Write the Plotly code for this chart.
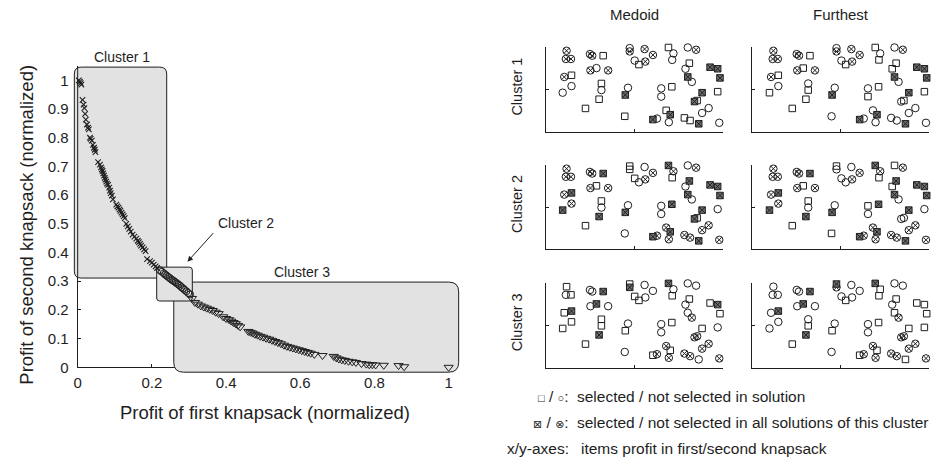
import plotly.graph_objects as go

W, H = 939, 468
FONT = "Liberation Sans, Arial, Helvetica, DejaVu Sans, sans-serif"
INK = "#1e1e1e"
BOX_FILL = "#e2e2e2"
XFILL = "#707070"

# ---------------- left chart data ----------------
c1_x = [0.003, 0.006, 0.008, 0.010, 0.013, 0.016, 0.018, 0.020, 0.022, 0.025,
        0.028, 0.030, 0.033, 0.035, 0.038, 0.041, 0.044, 0.046, 0.048, 0.055,
        0.060, 0.063, 0.065, 0.067, 0.069, 0.071, 0.073, 0.075, 0.077, 0.079,
        0.082, 0.085, 0.087, 0.089, 0.092, 0.095, 0.104, 0.107, 0.110, 0.113,
        0.115, 0.118, 0.121, 0.124, 0.127, 0.131, 0.135, 0.139, 0.143, 0.148,
        0.153, 0.158, 0.162, 0.165, 0.168, 0.171, 0.175, 0.179, 0.183, 0.187,
        0.195, 0.200, 0.205, 0.210, 0.214]
c1_y = [1.000, 0.995, 0.990, 0.985, 0.932, 0.915, 0.903, 0.883, 0.863, 0.846,
        0.835, 0.829, 0.800, 0.796, 0.790, 0.775, 0.765, 0.758, 0.750, 0.715,
        0.706, 0.697, 0.690, 0.684, 0.676, 0.668, 0.660, 0.654, 0.647, 0.640,
        0.636, 0.626, 0.616, 0.607, 0.598, 0.585, 0.567, 0.561, 0.556, 0.550,
        0.545, 0.539, 0.533, 0.527, 0.520, 0.500, 0.491, 0.482, 0.473, 0.462,
        0.455, 0.448, 0.441, 0.436, 0.430, 0.424, 0.418, 0.411, 0.405, 0.377,
        0.370, 0.365, 0.358, 0.352, 0.346]

c2_x = [0.222, 0.227, 0.232, 0.236, 0.240, 0.244, 0.248, 0.252, 0.256, 0.260,
        0.264, 0.268, 0.272, 0.276, 0.280, 0.284, 0.288, 0.293, 0.298, 0.303]
c2_y = [0.338, 0.333, 0.328, 0.323, 0.319, 0.315, 0.311, 0.307, 0.303, 0.300,
        0.296, 0.292, 0.288, 0.284, 0.279, 0.275, 0.270, 0.265, 0.259, 0.254]

c3_x = [0.308, 0.316, 0.324, 0.332, 0.340, 0.348, 0.356, 0.364, 0.372, 0.380,
        0.392, 0.400, 0.408, 0.414, 0.420, 0.426, 0.432, 0.438, 0.460, 0.466,
        0.472, 0.478, 0.485, 0.492, 0.500, 0.508, 0.516, 0.524, 0.532, 0.540,
        0.548, 0.556, 0.564, 0.572, 0.580, 0.588, 0.596, 0.604, 0.612, 0.620,
        0.628, 0.638, 0.660, 0.690, 0.697, 0.704, 0.712, 0.720, 0.730, 0.740,
        0.750, 0.765, 0.778, 0.786, 0.794, 0.803, 0.825, 0.865, 0.880, 1.000]
c3_y = [0.240, 0.226, 0.220, 0.214, 0.210, 0.206, 0.202, 0.198, 0.192, 0.187,
        0.176, 0.170, 0.166, 0.161, 0.156, 0.152, 0.146, 0.141, 0.125, 0.122,
        0.119, 0.115, 0.112, 0.108, 0.105, 0.101, 0.098, 0.094, 0.090, 0.086,
        0.082, 0.077, 0.073, 0.070, 0.067, 0.064, 0.061, 0.058, 0.055, 0.052,
        0.049, 0.045, 0.041, 0.038, 0.033, 0.029, 0.026, 0.024, 0.021, 0.019,
        0.017, 0.013, 0.011, 0.009, 0.009, 0.008, 0.007, 0.006, 0.002, 0.000]

cluster_labels = ["Cluster 1", "Cluster 2", "Cluster 3"]
# cluster regions (x0, x1, y0, y1) in data units
box_c1 = [-0.009, 0.240, 0.311, 1.046]
box_c2 = [0.213, 0.309, 0.231, 0.349]
box_c3 = [0.259, 1.027, -0.017, 0.297]
label_pos_c1 = [0.119, 1.080]
label_pos_c2 = [0.453, 0.502]
label_pos_c3 = [0.606, 0.331]
arrow_tip_c2 = [0.296, 0.368]

x_tickvals = [0, 0.2, 0.4, 0.6, 0.8, 1]
x_ticktext = ["0", "0.2", "0.4", "0.6", "0.8", "1"]
y_tickvals = [0, 0.1, 0.2, 0.3, 0.4, 0.5, 0.6, 0.7, 0.8, 0.9, 1]
y_ticktext = ["0", "0.1", "0.2", "0.3", "0.4", "0.5", "0.6", "0.7", "0.8", "0.9", "1"]

# ---------------- right panels data ----------------
item_x = [0.118, 0.114, 0.143, 0.105, 0.146, 0.146, 0.096, 0.250, 0.263, 0.325,
          0.253, 0.287, 0.353, 0.315, 0.315, 0.302, 0.225, 0.475, 0.475, 0.559,
          0.606, 0.503, 0.563, 0.527, 0.465, 0.450, 0.447, 0.694, 0.722, 0.715,
          0.653, 0.653, 0.713, 0.681, 0.704, 0.696, 0.606, 0.629, 0.803, 0.850,
          0.812, 0.790, 0.803, 0.826, 0.884, 0.841, 0.856, 0.921, 0.884, 0.784,
          0.816, 0.865, 0.981, 0.929, 0.972, 0.985, 0.972]
item_y = [0.961, 0.864, 0.864, 0.651, 0.671, 0.543, 0.465, 0.922, 0.903, 0.903,
          0.729, 0.756, 0.729, 0.574, 0.496, 0.388, 0.279, 0.992, 0.953, 0.981,
          0.911, 0.845, 0.833, 0.798, 0.523, 0.438, 0.186, 1.000, 0.930, 0.853,
          0.516, 0.419, 0.535, 0.256, 0.205, 0.116, 0.147, 0.159, 1.000, 0.973,
          0.814, 0.748, 0.651, 0.593, 0.465, 0.360, 0.372, 0.283, 0.225, 0.167,
          0.136, 0.097, 0.109, 0.767, 0.748, 0.640, 0.477]
# S: selected, C: not selected, X: selected in all, O: not selected in all
medoid_c1 = list("OOOOSCC" "OOSOCOSCSS" "COOOCOSCXS" "SCCCCSSXCXC" "COSCXCXXSCCSSXCXXXS")
furthest_c1 = list("OOOOSCS" "OOSOSOCSSS" "COOOCOSCXC" "SCSCSSCXCXC" "COSSXCXCSCCCCXCXXXS")
medoid_c2 = list("OOOOXOX" "OOXOSOSCXS" "SSCOSOCCXC" "XOSCCXOXOXO" "COXCXCXXSOOOOXOXXXC")
furthest_c2 = list("OOOOXOX" "OOXOSOSCXS" "SCCOCOCCXS" "XOSSCXOXOXO" "SOXSXCXCCOOOOXOXXXC")
medoid_c3 = list("SCSSXSS" "CCXCXCSSXS" "SXCCSCSCSC" "XCSCCSOSOSO" "CCSCCOSOOOOOOCOSXSC")
furthest_c3 = list("CCCCXCC" "CCXCXCCSXS" "XOCCCCSCSC" "XSSCCSOSOSO" "CCSCSOSOOOOOOSOSSSS")

column_titles = ["Medoid", "Furthest"]
row_titles = ["Cluster 1", "Cluster 2", "Cluster 3"]
legend_keys = ['<span style="font-size:11px">□</span> / <span style="font-size:11px">○</span>:',
               '<span style="font-size:11px">⊠</span> / <span style="font-size:11px">⊗</span>:',
               'x/y-axes:']
legend_texts = ["selected / not selected in solution",
                "selected / not selected in all solutions of this cluster",
                "items profit in first/second knapsack"]

# ---------------- layout geometry (pixels) ----------------
def fx(px):
    return px / W


def fy(py):
    return 1 - py / H


LX0, LX1 = 74.0, 454.0
X_RANGE = [0, 1.02]
SX = (LX1 - LX0) / (X_RANGE[1] - X_RANGE[0])
LY0 = 373.7
SY = 292.0
Y_RANGE = [0, 1.05]
LY1 = LY0 - SY * (Y_RANGE[1] - Y_RANGE[0])
# extended drawing area for data + cluster boxes (same scale)
EX0, EX1, EYT, EYB = 58.0, 472.0, 50.0, 388.0
ext_xr = [X_RANGE[0] + (EX0 - LX0) / SX, X_RANGE[0] + (EX1 - LX0) / SX]
ext_yr = [(LY0 - EYB) / SY, (LY0 - EYT) / SY]

COLS_PX = [(544.0, 721.7), (751.7, 929.3)]
ROWS_PX = [(48.3, 134.3), (168.3, 253.3), (288.3, 374.0)]

fig = go.Figure()

# dummy trace so the visible axes subplot is drawn first
fig.add_trace(go.Scatter(x=[], y=[], xaxis="x", yaxis="y", showlegend=False,
                         hoverinfo="skip"))

fig.add_trace(go.Scatter(x=c1_x, y=c1_y, mode="markers", xaxis="x8", yaxis="y8",
                         cliponaxis=False, showlegend=False,
                         marker=dict(symbol="x-thin-open", size=5.5, color=INK,
                                     line=dict(width=1.1, color=INK))))
fig.add_trace(go.Scatter(x=c2_x, y=c2_y, mode="markers", xaxis="x8", yaxis="y8",
                         cliponaxis=False, showlegend=False,
                         marker=dict(symbol="circle-open", size=7, color=INK,
                                     line=dict(width=1, color=INK))))
fig.add_trace(go.Scatter(x=c3_x, y=c3_y, mode="markers", xaxis="x8", yaxis="y8",
                         cliponaxis=False, showlegend=False,
                         marker=dict(symbol="triangle-down-open", size=8, color=INK,
                                     line=dict(width=1, color=INK))))

SYMS = {
    "C": dict(symbol="circle-open", size=7.5, color=INK, line=dict(width=1, color=INK)),
    "O": dict(symbol="circle-x-open", size=7.5, color=INK, line=dict(width=1, color=INK)),
    "S": dict(symbol="square-open", size=6.5, color=INK, line=dict(width=1, color=INK)),
    "X": dict(symbol="square-x", size=6.5, color=XFILL, line=dict(width=1, color=INK)),
}

panel_codes = [[medoid_c1, furthest_c1], [medoid_c2, furthest_c2], [medoid_c3, furthest_c3]]

layout_axes = {}
n = 2
for r, row in enumerate(panel_codes):
    for c, codes in enumerate(row):
        for key in ["C", "O", "S", "X"]:
            idx = [i for i, k in enumerate(codes) if k == key]
            fig.add_trace(go.Scatter(
                x=[item_x[i] for i in idx], y=[item_y[i] for i in idx],
                mode="markers", xaxis=f"x{n}", yaxis=f"y{n}", cliponaxis=False,
                showlegend=False, marker=SYMS[key]))
        x0, x1 = COLS_PX[c]
        yt, yb = ROWS_PX[r]
        layout_axes[f"xaxis{n}"] = dict(domain=[fx(x0), fx(x1)], range=[0, 1], anchor=f"y{n}",
                                        showline=True, linecolor=INK, linewidth=1,
                                        ticks="inside", ticklen=3, tickcolor=INK,
                                        tickvals=[0.5, 1], showticklabels=False,
                                        showgrid=False, zeroline=False, fixedrange=True)
        layout_axes[f"yaxis{n}"] = dict(domain=[fy(yb), fy(yt)], range=[0, 1], anchor=f"x{n}",
                                        showline=True, linecolor=INK, linewidth=1,
                                        ticks="inside", ticklen=3, tickcolor=INK,
                                        tickvals=[0.5], showticklabels=False,
                                        showgrid=False, zeroline=False, fixedrange=True)
        n += 1


def rrect(b, r):
    x0, x1, y0, y1 = b
    rx, ry = r / SX, r / SY
    return (f"M {x0 + rx},{y0} L {x1 - rx},{y0} Q {x1},{y0} {x1},{y0 + ry} "
            f"L {x1},{y1 - ry} Q {x1},{y1} {x1 - rx},{y1} L {x0 + rx},{y1} "
            f"Q {x0},{y1} {x0},{y1 - ry} L {x0},{y0 + ry} Q {x0},{y0} {x0 + rx},{y0} Z")


shapes = []
for b, rad in [(box_c1, 7), (box_c3, 10), (box_c2, 3)]:
    shapes.append(dict(type="path", path=rrect(b, rad), xref="x8", yref="y8",
                       fillcolor=BOX_FILL, line=dict(color=INK, width=1), layer="below"))
# y-axis line visible inside the first cluster region
shapes.append(dict(type="line", xref="x8", yref="y8", x0=0, x1=0, y0=box_c1[2], y1=Y_RANGE[1],
                   line=dict(color=INK, width=1), layer="below"))


def txt(text, x, y, size, xanchor="center", yanchor="middle", angle=0, xref="paper", yref="paper"):
    return dict(text=text, x=x, y=y, xref=xref, yref=yref, showarrow=False,
                xanchor=xanchor, yanchor=yanchor, textangle=angle,
                font=dict(size=size, color=INK, family=FONT))


ann = []
for name, pos in zip(cluster_labels, [label_pos_c1, label_pos_c2, label_pos_c3]):
    ann.append(txt(name, pos[0], pos[1], 14, xref="x8", yref="y8"))
ann.append(dict(text="", x=arrow_tip_c2[0], y=arrow_tip_c2[1], xref="x8", yref="y8",
                showarrow=True, ax=27, ay=-30, arrowhead=2, arrowsize=1.1, arrowwidth=1,
                arrowcolor=INK))
ann.append(txt("Profit of first knapsack (normalized)", fx(261.7), fy(420), 18.5))
ann.append(txt("Profit of second knapsack (normalized)", fx(21.7), fy(229), 18.5, angle=-90))
for t, (x0, x1) in zip(column_titles, COLS_PX):
    ann.append(txt(t, fx((x0 + x1) / 2), fy(15), 15))
for t, (yt, yb) in zip(row_titles, ROWS_PX):
    ann.append(txt(t, fx(515), fy((yt + yb) / 2 - 3), 14.5, angle=-90))
for key, desc, py, tx in zip(legend_keys, legend_texts, [403, 430, 456], [573.3, 573.3, 577.7]):
    ann.append(txt(key, fx(569), fy(py), 15.5, xanchor="right"))
    ann.append(txt(desc, fx(tx), fy(py), 15.5, xanchor="left"))

fig.update_layout(
    width=W, height=H, autosize=False,
    margin=dict(l=0, r=0, t=0, b=0),
    paper_bgcolor="white", plot_bgcolor="rgba(0,0,0,0)",
    font=dict(family=FONT, color=INK),
    showlegend=False,
    xaxis=dict(domain=[fx(LX0), fx(LX1)], range=X_RANGE, anchor="y",
               showline=True, linecolor=INK, linewidth=1, ticks="inside", ticklen=3,
               tickcolor=INK, tickvals=x_tickvals, ticktext=x_ticktext,
               tickfont=dict(size=15, color=INK, family=FONT), ticklabelstandoff=2,
               showgrid=False, zeroline=False, fixedrange=True),
    yaxis=dict(domain=[fy(LY0), fy(LY1)], range=Y_RANGE, anchor="x",
               showline=True, linecolor=INK, linewidth=1, ticks="inside", ticklen=3,
               tickcolor=INK, tickvals=y_tickvals, ticktext=y_ticktext,
               tickfont=dict(size=15, color=INK, family=FONT), ticklabelstandoff=5,
               showgrid=False, zeroline=False, fixedrange=True),
    xaxis8=dict(domain=[fx(EX0), fx(EX1)], range=ext_xr, anchor="y8", visible=False,
                fixedrange=True),
    yaxis8=dict(domain=[fy(EYB), fy(EYT)], range=ext_yr, anchor="x8", visible=False,
                fixedrange=True),
    shapes=shapes,
    annotations=ann,
    **layout_axes,
)

fig.write_html("out.html")
